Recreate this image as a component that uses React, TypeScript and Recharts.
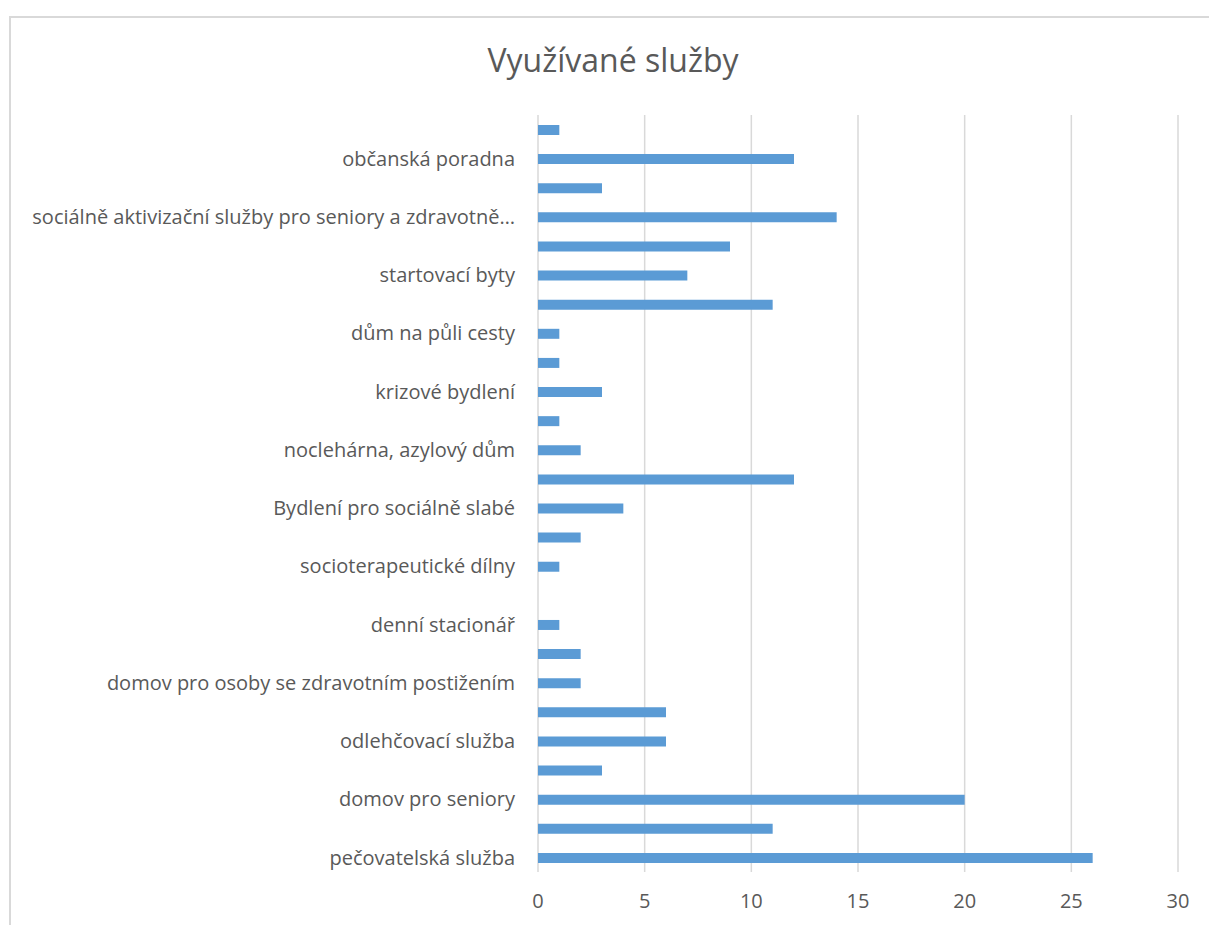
import { BarChart, Bar, XAxis, YAxis, CartesianGrid } from "recharts";

// categories listed bottom-to-top (first one sits at the bottom, as in Excel)
const SERVICES = [
  "pečovatelská služba",
  "osobní asistence",
  "domov pro seniory",
  "tísňová péče",
  "odlehčovací služba",
  "centrum denních služeb",
  "domov pro osoby se zdravotním postižením",
  "týdenní stacionář",
  "denní stacionář",
  "chráněné bydlení",
  "socioterapeutické dílny",
  "sociální rehabilitace",
  "Bydlení pro sociálně slabé",
  "sociální byty",
  "noclehárna, azylový dům",
  "azylový dům pro matky s dětmi",
  "krizové bydlení",
  "terénní programy",
  "dům na půli cesty",
  "podporované bydlení",
  "startovací byty",
  "nízkoprahové denní centrum",
  "sociálně aktivizační služby pro seniory a zdravotně postižené",
  "odborné sociální poradenství",
  "občanská poradna",
  "jiné",
];

const COUNTS = [26, 11, 20, 3, 6, 6, 2, 2, 1, 0, 1, 2, 4, 12, 2, 1, 3, 1, 1, 11, 7, 9, 14, 3, 12, 1];

const X_TICKS = [0, 5, 10, 15, 20, 25, 30];

const TEXT = "#595959";
const GRID = "#d9d9d9";
const FONT = "'Open Sans', Lato, sans-serif";

const data = SERVICES.map((name, i) => ({ name, count: COUNTS[i] }));

const shorten = (s: string) => (s.length > 51 ? s.slice(0, 51) + "…" : s);

export default function App() {
  return (
    <div
      style={{
        position: "absolute",
        left: 0,
        top: 0,
        width: 1209,
        height: 925,
        overflow: "hidden",
        background: "#fff",
        fontFamily: FONT,
      }}
    >
      <div
        style={{
          position: "absolute",
          left: 9,
          top: 16,
          width: 1220,
          height: 940,
          borderLeft: `2px solid ${GRID}`,
          borderTop: `2px solid ${GRID}`,
        }}
      />
      <div
        style={{
          position: "absolute",
          left: 0,
          width: 1226,
          top: 42,
          textAlign: "center",
          fontSize: 32,
          color: TEXT,
          lineHeight: "36px",
        }}
      >
        Využívané služby
      </div>
      <div style={{ position: "absolute", left: 0, top: 0 }}>
        <BarChart
          width={1209}
          height={925}
          data={data}
          layout="vertical"
          margin={{ top: 115, right: 31, bottom: 0, left: 0 }}
          barSize={10}
        >
          <CartesianGrid horizontal={false} stroke={GRID} strokeWidth={1.5} />
          <XAxis
            type="number"
            domain={[0, 30]}
            ticks={X_TICKS}
            interval={0}
            height={53}
            axisLine={false}
            tickLine={false}
            tickMargin={16}
            tick={{ fontSize: 20, fill: TEXT, fontFamily: FONT }}
          />
          <YAxis
            type="category"
            dataKey="name"
            reversed
            width={538}
            interval={1}
            axisLine={false}
            tickLine={false}
            tickMargin={17}
            tickFormatter={shorten}
            tick={{ fontSize: 20, fill: TEXT, fontFamily: FONT }}
          />
          <Bar dataKey="count" fill="#5b9bd5" isAnimationActive={false} />
        </BarChart>
      </div>
    </div>
  );
}
